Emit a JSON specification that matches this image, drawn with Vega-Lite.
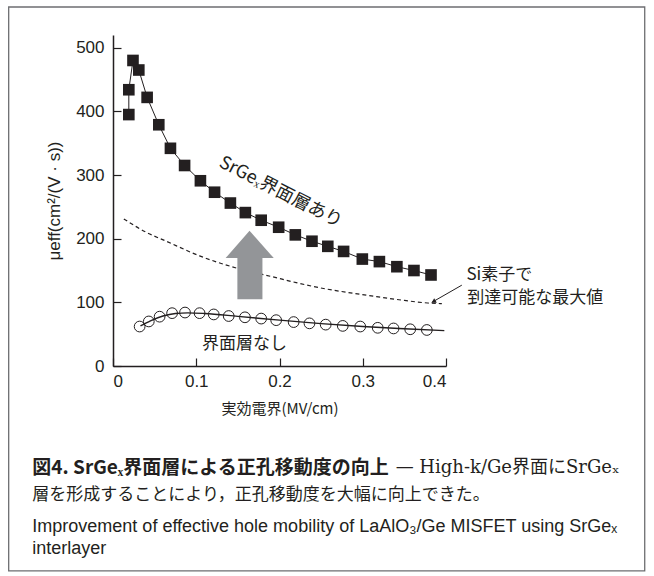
{
  "$schema": "https://vega.github.io/schema/vega-lite/v6.json",
  "width": 333,
  "height": 331,
  "autosize": {"type": "none"},
  "padding": {"left": 113, "top": 35, "right": 208, "bottom": 210},
  "background": "white",
  "config": {
    "view": {"stroke": null},
    "axis": {
      "grid": false,
      "domainColor": "#231f20",
      "tickColor": "#231f20",
      "labelColor": "#231f20",
      "titleColor": "#231f20",
      "labelFont": "Liberation Sans",
      "labelFontSize": 17,
      "titleFontSize": 15,
      "titleFontWeight": "normal",
      "domainWidth": 1.5,
      "tickWidth": 1.2,
      "tickSize": -8
    }
  },
  "datasets": {
    "frame": [{"x": -0.1253, "x2": 0.6387, "y": 564, "y2": -322}],
    "si": [
      {"x": 0.013, "y": 231}, {"x": 0.04, "y": 210}, {"x": 0.064, "y": 196},
      {"x": 0.104, "y": 173}, {"x": 0.148, "y": 154}, {"x": 0.192, "y": 140},
      {"x": 0.22, "y": 131}, {"x": 0.256, "y": 121}, {"x": 0.29, "y": 114},
      {"x": 0.316, "y": 109}, {"x": 0.35, "y": 103}, {"x": 0.378, "y": 99},
      {"x": 0.395, "y": 98}
    ],
    "shaft": [{"x": 0.1494, "x2": 0.1795, "y": 104.8, "y2": 169.5}],
    "head": [
      {"x": 0.1353, "y": 169.5, "y2": 169.5},
      {"x": 0.164, "y": 212.6, "y2": 169.5},
      {"x": 0.1931, "y": 169.5, "y2": 169.5}
    ],
    "fit": [
      {"x": 0.033, "y": 63}, {"x": 0.045, "y": 71}, {"x": 0.06, "y": 78.5},
      {"x": 0.075, "y": 82.5}, {"x": 0.09, "y": 83.5}, {"x": 0.11, "y": 82.5},
      {"x": 0.15, "y": 78}, {"x": 0.2, "y": 72}, {"x": 0.25, "y": 66.5},
      {"x": 0.3, "y": 62}, {"x": 0.35, "y": 58.5}, {"x": 0.398, "y": 55.5}
    ],
    "open": [
      {"x": 0.032, "y": 62}, {"x": 0.043, "y": 70}, {"x": 0.056, "y": 77.5},
      {"x": 0.071, "y": 83}, {"x": 0.0865, "y": 84}, {"x": 0.104, "y": 83},
      {"x": 0.121, "y": 81}, {"x": 0.139, "y": 78.5}, {"x": 0.1585, "y": 76.5},
      {"x": 0.178, "y": 74.5}, {"x": 0.196, "y": 72}, {"x": 0.217, "y": 69},
      {"x": 0.236, "y": 67}, {"x": 0.2555, "y": 65}, {"x": 0.276, "y": 63},
      {"x": 0.297, "y": 62}, {"x": 0.318, "y": 60}, {"x": 0.337, "y": 59},
      {"x": 0.357, "y": 57.7}, {"x": 0.377, "y": 56.6}
    ],
    "filled": [
      {"i": 1, "x": 0.019, "y": 395}, {"i": 2, "x": 0.019, "y": 434},
      {"i": 3, "x": 0.024, "y": 480}, {"i": 4, "x": 0.031, "y": 465},
      {"i": 5, "x": 0.041, "y": 422}, {"i": 6, "x": 0.055, "y": 379},
      {"i": 7, "x": 0.069, "y": 342}, {"i": 8, "x": 0.086, "y": 315},
      {"i": 9, "x": 0.105, "y": 291}, {"i": 10, "x": 0.122, "y": 273},
      {"i": 11, "x": 0.141, "y": 256}, {"i": 12, "x": 0.159, "y": 241},
      {"i": 13, "x": 0.178, "y": 229}, {"i": 14, "x": 0.199, "y": 218},
      {"i": 15, "x": 0.219, "y": 206}, {"i": 16, "x": 0.239, "y": 196},
      {"i": 17, "x": 0.258, "y": 188}, {"i": 18, "x": 0.277, "y": 180},
      {"i": 19, "x": 0.2995, "y": 168}, {"i": 20, "x": 0.32, "y": 164},
      {"i": 21, "x": 0.341, "y": 156}, {"i": 22, "x": 0.3615, "y": 150},
      {"i": 23, "x": 0.382, "y": 143}
    ],
    "labelRot": [{"x": 0.2012, "y": 272.6, "t": "SrGeₓ界面層あり"}],
    "labelCJK": [
      {"x": 0.158, "y": 34.6, "t": "界面層なし"}
    ],
    "labelSi": [
      {"x": 0.4245, "y": 143.5, "t": "Si素子で"},
      {"x": 0.4255, "y": 106.5, "t": "到達可能な最大値"}
    ],
    "pointer": [{"x": 0.419, "y": 127, "x2": 0.383, "y2": 100}],
    "pointerHead": [{"x": 0.385, "y": 101.2}],
    "capBold": [{"x": -0.0969, "y": -160, "t": "図4. SrGeₓ界面層による正孔移動度の向上"}],
    "capSerif1": [
      {"x": 0.3395, "y": -160, "t": "— High-k/Ge界面にSrGeₓ"}
    ],
    "capSerif2": [
      {"x": -0.0969, "y": -202.7, "t": "層を形成することにより，正孔移動度を大幅に向上できた。"}
    ],
    "capEn": [
      {"x": -0.0969, "y": -253, "t": "Improvement of effective hole mobility of LaAlO₃/Ge MISFET using SrGeₓ"},
      {"x": -0.0969, "y": -287.5, "t": "interlayer"}
    ]
  },
  "layer": [
    {
      "data": {"name": "frame"},
      "mark": {"type": "rect", "fill": null, "fillOpacity": 0, "stroke": "#6d6e71", "strokeWidth": 1.3},
      "encoding": {
        "x": {"field": "x", "type": "quantitative",
              "scale": {"domain": [0, 0.4], "nice": false, "zero": false},
              "axis": {"values": [0, 0.1, 0.2, 0.3, 0.4], "format": "~g", "title": "実効電界(MV/cm)",
                       "titleFont": "Noto Sans CJK JP", "titlePadding": 12, "labelPadding": 15}},
        "x2": {"field": "x2"},
        "y": {"field": "y", "type": "quantitative",
              "scale": {"domain": [0, 520], "nice": false, "zero": false},
              "axis": {"values": [0, 100, 200, 300, 400, 500], "title": "μeff(cm²/(V · s))",
                       "titleFont": "Liberation Sans", "titleFontSize": 17, "titlePadding": 12, "labelPadding": 17}},
        "y2": {"field": "y2"}
      }
    },
    {
      "data": {"name": "si"},
      "mark": {"type": "line", "color": "#231f20", "strokeWidth": 1.2, "strokeDash": [4, 3], "interpolate": "monotone"},
      "encoding": {
        "x": {"field": "x", "type": "quantitative"},
        "y": {"field": "y", "type": "quantitative"}
      }
    },
    {
      "data": {"name": "shaft"},
      "mark": {"type": "rect", "color": "#939598"},
      "encoding": {
        "x": {"field": "x", "type": "quantitative"},
        "x2": {"field": "x2"},
        "y": {"field": "y", "type": "quantitative"},
        "y2": {"field": "y2"}
      }
    },
    {
      "data": {"name": "head"},
      "mark": {"type": "area", "color": "#939598", "opacity": 1},
      "encoding": {
        "x": {"field": "x", "type": "quantitative"},
        "y": {"field": "y", "type": "quantitative"},
        "y2": {"field": "y2"}
      }
    },
    {
      "data": {"name": "fit"},
      "mark": {"type": "line", "color": "#231f20", "strokeWidth": 1.4, "interpolate": "monotone"},
      "encoding": {
        "x": {"field": "x", "type": "quantitative"},
        "y": {"field": "y", "type": "quantitative"}
      }
    },
    {
      "data": {"name": "open"},
      "mark": {"type": "point", "shape": "circle", "filled": false, "size": 115, "stroke": "#231f20", "strokeWidth": 1, "opacity": 1},
      "encoding": {
        "x": {"field": "x", "type": "quantitative"},
        "y": {"field": "y", "type": "quantitative"}
      }
    },
    {
      "data": {"name": "filled"},
      "mark": {"type": "line", "color": "#231f20", "strokeWidth": 1},
      "encoding": {
        "x": {"field": "x", "type": "quantitative"},
        "y": {"field": "y", "type": "quantitative"},
        "order": {"field": "i", "type": "quantitative"}
      }
    },
    {
      "data": {"name": "filled"},
      "mark": {"type": "point", "shape": "square", "filled": true, "size": 135, "color": "#231f20", "opacity": 1},
      "encoding": {
        "x": {"field": "x", "type": "quantitative"},
        "y": {"field": "y", "type": "quantitative"}
      }
    },
    {
      "data": {"name": "labelRot"},
      "mark": {"type": "text", "font": "Noto Sans CJK JP", "fontSize": 18, "angle": 27, "align": "center", "baseline": "middle", "color": "#231f20"},
      "encoding": {
        "x": {"field": "x", "type": "quantitative"},
        "y": {"field": "y", "type": "quantitative"},
        "text": {"field": "t"}
      }
    },
    {
      "data": {"name": "labelCJK"},
      "mark": {"type": "text", "font": "Noto Sans CJK JP", "fontSize": 17, "align": "center", "baseline": "middle", "color": "#231f20"},
      "encoding": {
        "x": {"field": "x", "type": "quantitative"},
        "y": {"field": "y", "type": "quantitative"},
        "text": {"field": "t"}
      }
    },
    {
      "data": {"name": "labelSi"},
      "mark": {"type": "text", "font": "Noto Sans CJK JP", "fontSize": 17, "align": "left", "baseline": "middle", "color": "#231f20"},
      "encoding": {
        "x": {"field": "x", "type": "quantitative"},
        "y": {"field": "y", "type": "quantitative"},
        "text": {"field": "t"}
      }
    },
    {
      "data": {"name": "pointer"},
      "mark": {"type": "rule", "color": "#231f20", "strokeWidth": 1},
      "encoding": {
        "x": {"field": "x", "type": "quantitative"},
        "y": {"field": "y", "type": "quantitative"},
        "x2": {"field": "x2"},
        "y2": {"field": "y2"}
      }
    },
    {
      "data": {"name": "pointerHead"},
      "mark": {"type": "point", "shape": "triangle-up", "filled": true, "size": 28, "angle": 240, "color": "#231f20", "opacity": 1},
      "encoding": {
        "x": {"field": "x", "type": "quantitative"},
        "y": {"field": "y", "type": "quantitative"}
      }
    },
    {
      "data": {"name": "capBold"},
      "mark": {"type": "text", "font": "Noto Sans CJK JP", "fontWeight": "bold", "fontSize": 19, "align": "left", "baseline": "middle", "color": "#231f20"},
      "encoding": {
        "x": {"field": "x", "type": "quantitative"},
        "y": {"field": "y", "type": "quantitative"},
        "text": {"field": "t"}
      }
    },
    {
      "data": {"name": "capSerif1"},
      "mark": {"type": "text", "font": "DejaVu Serif, Noto Sans CJK JP", "fontSize": 18, "align": "left", "baseline": "middle", "color": "#231f20"},
      "encoding": {
        "x": {"field": "x", "type": "quantitative"},
        "y": {"field": "y", "type": "quantitative"},
        "text": {"field": "t"}
      }
    },
    {
      "data": {"name": "capSerif2"},
      "mark": {"type": "text", "font": "Liberation Serif, Noto Sans CJK JP", "fontSize": 17, "align": "left", "baseline": "middle", "color": "#231f20"},
      "encoding": {
        "x": {"field": "x", "type": "quantitative"},
        "y": {"field": "y", "type": "quantitative"},
        "text": {"field": "t"}
      }
    },
    {
      "data": {"name": "capEn"},
      "mark": {"type": "text", "font": "Liberation Sans", "fontSize": 18, "align": "left", "baseline": "middle", "color": "#231f20"},
      "encoding": {
        "x": {"field": "x", "type": "quantitative"},
        "y": {"field": "y", "type": "quantitative"},
        "text": {"field": "t"}
      }
    }
  ]
}
